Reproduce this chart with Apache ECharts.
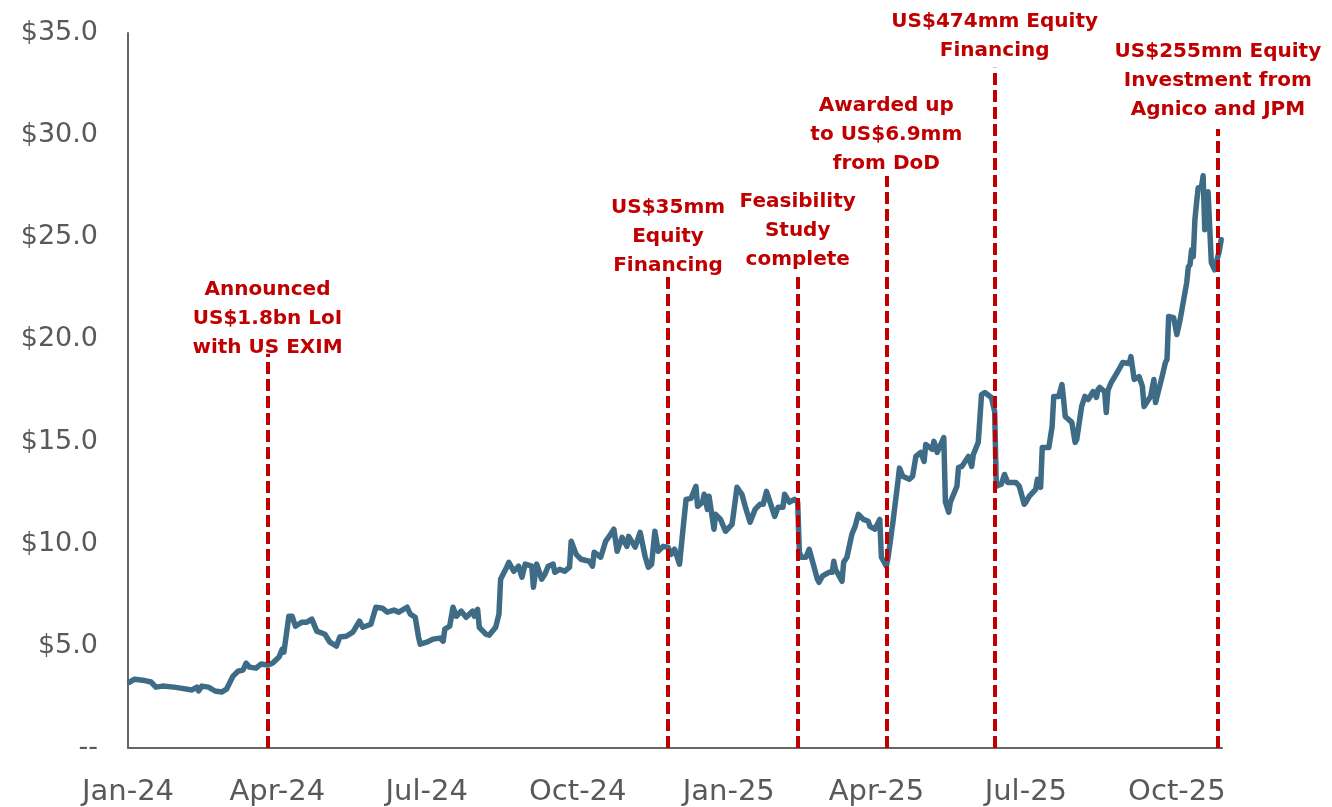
<!DOCTYPE html>
<html>
<head>
<meta charset="utf-8">
<script src="https://cdn.jsdelivr.net/npm/echarts@6/dist/echarts.min.js"></script>
<style>
html,body{margin:0;padding:0;background:#fff;}
#chart{width:1332px;height:807px;}
</style>
</head>
<body>
<div id="chart"></div>
<script>
const dates = [
'2024-01-02','2024-01-05','2024-01-10','2024-01-15','2024-01-18','2024-01-22','2024-01-29',
'2024-02-02','2024-02-09','2024-02-12','2024-02-13','2024-02-15','2024-02-19','2024-02-23','2024-02-27',
'2024-03-01','2024-03-05','2024-03-08','2024-03-11','2024-03-13','2024-03-15','2024-03-19','2024-03-22','2024-03-26','2024-03-29',
'2024-04-02','2024-04-04','2024-04-05','2024-04-08','2024-04-10','2024-04-12','2024-04-16','2024-04-19','2024-04-22','2024-04-25','2024-04-30',
'2024-05-03','2024-05-07','2024-05-09','2024-05-13','2024-05-17','2024-05-21','2024-05-23','2024-05-28','2024-05-31',
'2024-06-04','2024-06-07','2024-06-11','2024-06-14','2024-06-19','2024-06-21','2024-06-24','2024-06-26','2024-06-27',
'2024-07-01','2024-07-05','2024-07-09','2024-07-11','2024-07-12','2024-07-15','2024-07-17','2024-07-19','2024-07-22','2024-07-25','2024-07-29','2024-07-30',
'2024-08-01','2024-08-02','2024-08-06','2024-08-08','2024-08-12','2024-08-14','2024-08-15','2024-08-19','2024-08-20','2024-08-23','2024-08-26','2024-08-28','2024-08-30',
'2024-09-03','2024-09-04','2024-09-06','2024-09-09','2024-09-11','2024-09-13','2024-09-16','2024-09-17','2024-09-20','2024-09-23','2024-09-26','2024-09-27','2024-09-30',
'2024-10-03','2024-10-08','2024-10-10','2024-10-11','2024-10-15','2024-10-18','2024-10-21','2024-10-23','2024-10-25','2024-10-28','2024-10-31',
'2024-11-01','2024-11-05','2024-11-08','2024-11-11','2024-11-13','2024-11-15','2024-11-17','2024-11-19','2024-11-22','2024-11-25','2024-11-27','2024-11-29',
'2024-12-02','2024-12-04','2024-12-06','2024-12-09','2024-12-12','2024-12-13','2024-12-16','2024-12-17','2024-12-19','2024-12-20','2024-12-23','2024-12-24','2024-12-27','2024-12-30',
'2025-01-03','2025-01-04','2025-01-06','2025-01-09','2025-01-11','2025-01-14','2025-01-17','2025-01-20','2025-01-22','2025-01-24','2025-01-27','2025-01-29','2025-01-31',
'2025-02-03','2025-02-04','2025-02-07','2025-02-10','2025-02-12','2025-02-13','2025-02-14','2025-02-17','2025-02-19','2025-02-21','2025-02-24','2025-02-25','2025-02-27',
'2025-03-03','2025-03-05','2025-03-06','2025-03-07','2025-03-11','2025-03-12','2025-03-14','2025-03-17','2025-03-19','2025-03-21','2025-03-24','2025-03-27','2025-03-28','2025-03-31',
'2025-04-03','2025-04-04','2025-04-07','2025-04-08','2025-04-11','2025-04-14','2025-04-15','2025-04-17','2025-04-21','2025-04-23','2025-04-25','2025-04-28','2025-04-30',
'2025-05-01','2025-05-05','2025-05-06','2025-05-08','2025-05-12','2025-05-13','2025-05-15','2025-05-16','2025-05-20','2025-05-21','2025-05-23','2025-05-27','2025-05-29','2025-05-30',
'2025-06-02','2025-06-04','2025-06-06','2025-06-10','2025-06-12','2025-06-13','2025-06-16','2025-06-18','2025-06-20','2025-06-25','2025-06-27','2025-06-30',
'2025-07-01','2025-07-03','2025-07-07','2025-07-08','2025-07-10','2025-07-11','2025-07-15','2025-07-17','2025-07-18','2025-07-21','2025-07-23','2025-07-24','2025-07-25','2025-07-29','2025-07-31',
'2025-08-01','2025-08-04','2025-08-06','2025-08-08','2025-08-11','2025-08-13','2025-08-14','2025-08-15','2025-08-18','2025-08-19','2025-08-20','2025-08-22','2025-08-26','2025-08-29',
'2025-09-02','2025-09-03','2025-09-05','2025-09-08','2025-09-10','2025-09-11','2025-09-15','2025-09-17','2025-09-18','2025-09-22','2025-09-24','2025-09-25','2025-09-26','2025-09-29',
'2025-10-01','2025-10-03','2025-10-07','2025-10-08','2025-10-09','2025-10-10','2025-10-11','2025-10-12','2025-10-13','2025-10-14','2025-10-16','2025-10-17','2025-10-18','2025-10-19','2025-10-20','2025-10-21','2025-10-22','2025-10-24','2025-10-25','2025-10-27','2025-10-28'
];
const prices = [
3.23,3.37,3.32,3.23,2.98,3.03,2.98,
2.93,2.84,2.98,2.79,3.03,2.98,2.79,2.74,
2.88,3.52,3.76,3.81,4.15,3.96,3.91,4.11,4.06,4.15,
4.45,4.84,4.69,6.45,6.45,5.96,6.16,6.16,6.31,5.72,5.57,
5.18,4.99,5.43,5.47,5.67,6.21,5.91,6.06,6.89,
6.84,6.65,6.75,6.65,6.89,6.55,6.40,5.43,5.08,
5.18,5.33,5.38,5.23,5.82,5.96,6.89,6.45,6.70,6.40,6.70,6.45,
6.79,5.91,5.57,5.52,5.91,6.55,8.26,8.90,9.09,8.65,8.90,8.36,9.00,
8.90,7.87,9.00,8.26,8.51,8.90,9.00,8.60,8.75,8.65,8.85,10.12,9.48,
9.24,9.14,8.90,9.58,9.34,10.12,10.46,10.71,9.63,10.31,9.87,
10.36,9.83,10.56,9.39,8.85,9.00,10.61,9.63,9.87,9.83,9.48,9.73,
9.00,10.61,12.17,12.22,12.81,11.83,12.03,12.42,11.68,12.32,10.71,11.44,11.19,10.61,
10.95,11.54,12.76,12.42,11.83,11.05,11.68,11.93,11.93,12.56,11.83,11.34,11.78,
11.78,12.42,12.03,12.17,12.03,9.60,9.34,9.34,9.73,9.14,8.26,8.11,8.41,
8.60,8.60,9.14,8.75,8.16,9.09,9.34,10.46,10.85,11.44,11.19,11.10,10.85,10.71,
11.19,9.34,8.90,9.30,11.05,13.00,13.70,13.30,13.15,13.30,14.27,14.47,14.03,
14.86,14.62,15.01,14.47,15.20,12.03,11.54,12.03,12.81,13.74,13.78,14.27,13.78,14.37,
14.96,17.30,17.40,17.16,16.47,12.81,12.91,13.39,13.00,13.00,12.81,11.93,
12.03,12.32,12.66,13.15,12.76,14.71,14.71,15.74,17.21,17.21,17.79,17.06,16.23,15.94,14.96,
15.10,16.72,17.21,17.06,17.45,17.16,17.55,17.65,17.45,16.42,17.50,17.89,18.43,18.87,
18.82,19.16,18.04,18.18,17.70,16.72,17.21,18.04,16.91,18.18,18.87,19.02,21.12,21.07,
20.24,20.97,22.78,23.56,23.66,24.39,24.05,25.86,26.69,27.42,27.47,28.01,25.37,26.35,27.23,27.23,23.76,23.41,23.32,24.39,24.88
];
const tickDates = ['2024-01-01','2024-04-01','2024-07-01','2024-10-01','2025-01-01','2025-04-01','2025-07-01','2025-10-01'];
const eventDates = ['2024-03-26','2024-11-25','2025-02-12','2025-04-07','2025-06-12','2025-10-26'];
const eventLabels = [
  'Announced\nUS$1.8bn LoI\nwith US EXIM',
  'US$35mm\nEquity\nFinancing',
  'Feasibility\nStudy\ncomplete',
  'Awarded up\nto US$6.9mm\nfrom DoD',
  'US$474mm Equity\nFinancing',
  'US$255mm Equity\nInvestment from\nAgnico and JPM'
];
const eventTops = [19.3, 23.2, 23.2, 28.0, 33.3, 30.3];
const yTicks = [0, 5, 10, 15, 20, 25, 30, 35];

// layout only: label gap above each dashed line (px)
const labelGap = [-9, -6, 0, -2, 2, 5];

const DAY = 86400000;
const ORIGIN = Date.UTC(2024, 0, 1);
function dayNum(s){ const p = s.split('-').map(Number); return (Date.UTC(p[0], p[1]-1, p[2]) - ORIGIN) / DAY; }
const MONTHS = ['Jan','Feb','Mar','Apr','May','Jun','Jul','Aug','Sep','Oct','Nov','Dec'];
const seriesData = dates.map((d,i)=>[dayNum(d), prices[i]]);

const chart = echarts.init(document.getElementById('chart'));
chart.setOption({
  animation: false,
  backgroundColor: '#ffffff',
  grid: { left: 128, right: 110, top: 33, bottom: 58 },
  xAxis: {
    type: 'value',
    min: 0,
    max: dayNum('2025-10-28') + 0.5,
    axisLine: { show: true, lineStyle: { color: '#666666', width: 2 } },
    axisTick: { show: false },
    splitLine: { show: false },
    axisLabel: {
      customValues: tickDates.map(dayNum),
      margin: 30,
      fontSize: 29,
      fontFamily: 'DejaVu Sans',
      color: '#595959',
      formatter: function(v){ const d = new Date(ORIGIN + Math.round(v)*DAY); return MONTHS[d.getUTCMonth()] + '-' + String(d.getUTCFullYear()).slice(2); }
    }
  },
  yAxis: {
    type: 'value',
    min: yTicks[0], max: yTicks[yTicks.length-1], interval: 5,
    axisLine: { show: true, lineStyle: { color: '#666666', width: 2 } },
    axisTick: { show: false },
    splitLine: { show: false },
    axisLabel: {
      margin: 30,
      fontSize: 27,
      fontFamily: 'DejaVu Sans',
      color: '#595959',
      formatter: function(v){ return v === 0 ? '--' : '$' + v.toFixed(1); }
    }
  },
  series: [
    {
      type: 'line',
      data: seriesData,
      showSymbol: false,
      symbol: 'none',
      z: 2,
      lineStyle: { color: '#3e6c86', width: 5.5, join: 'round', cap: 'round' }
    },
    {
      type: 'line',
      data: [],
      z: 5,
      markLine: {
        silent: true,
        symbol: ['none','none'],
        animation: false,
        lineStyle: { color: '#c00000', width: 4, type: [12, 5] },
        label: {
          show: true,
          position: 'end',
          distance: 2,
          formatter: function(p){ return p.name; },
          color: '#c00000',
          fontFamily: 'DejaVu Sans',
          fontWeight: 'bold',
          fontSize: 20,
          lineHeight: 29,
          align: 'center'
        },
        emphasis: { disabled: true },
        data: eventDates.map((d,i)=>[
          { name: eventLabels[i], coord: [dayNum(d), 0], label: { distance: labelGap[i] } },
          { coord: [dayNum(d), eventTops[i]] }
        ])
      }
    }
  ]
});
</script>
</body>
</html>
